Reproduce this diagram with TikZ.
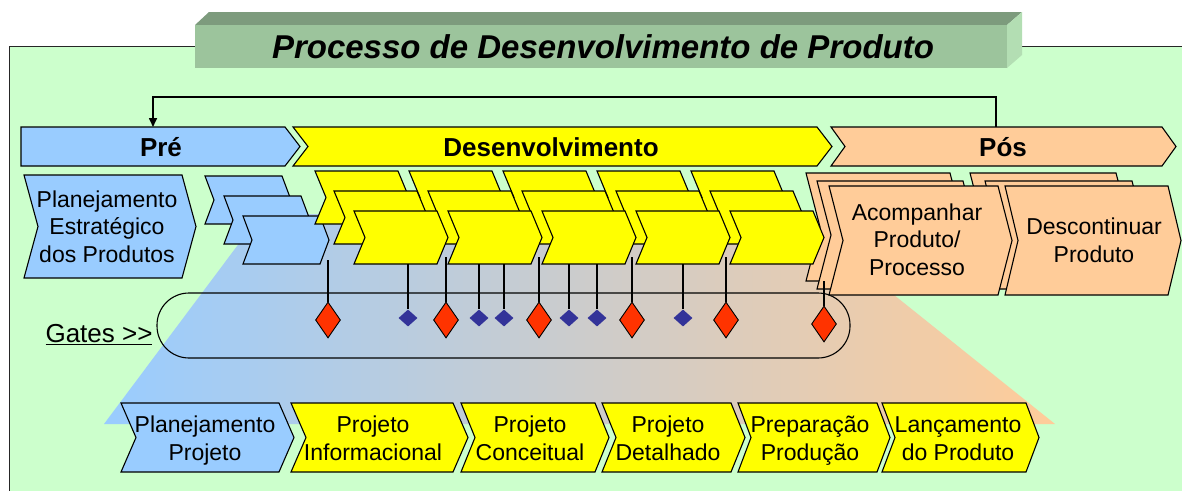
\documentclass[tikz,border=0pt]{standalone}
\usepackage{fontspec}
\setmainfont{Liberation Sans}
\usetikzlibrary{shapes.geometric,arrows.meta}
\definecolor{panelgreen}{HTML}{CCFFCC}
\definecolor{pblue}{HTML}{99CCFF}
\definecolor{pyellow}{HTML}{FFFF00}
\definecolor{porange}{HTML}{FFCC99}
\definecolor{gred}{HTML}{FF3300}
\definecolor{gblue}{HTML}{333399}
\definecolor{bfront}{HTML}{9CC49C}
\definecolor{btop}{HTML}{7D9B7D}
\definecolor{bside}{HTML}{B3DEB3}
% chevron: style, x, y, top width, height, depth
\newcommand{\chev}[6]{%
  \path[#1] (#2,#3) -- ++(#4,0) -- ++(#6,#5/2) -- ++(-#6,#5/2) -- ++(-#4,0) -- ++(#6,-#5/2) -- cycle;}
\tikzset{
  box/.style={draw=black, line width=1.1pt, line join=miter},
  bluebox/.style={box, fill=pblue},
  yelbox/.style={box, fill=pyellow},
  orabox/.style={box, fill=porange},
  head/.style={font=\fontsize{26}{30}\selectfont\bfseries, inner sep=0pt},
  lbl/.style={font=\fontsize{23}{27.5}\selectfont, align=center, inner sep=0pt},
  gateline/.style={draw=black, line width=1.1pt},
  redgate/.style={shape=diamond, draw=black, line width=0.9pt, fill=gred, inner sep=0pt, minimum width=25pt, minimum height=36pt},
  bluegate/.style={shape=diamond, fill=gblue, inner sep=0pt, minimum width=19pt, minimum height=17pt},
}
\begin{document}
\begin{tikzpicture}[x=1pt,y=-1pt]
\useasboundingbox (0,0) rectangle (1182,490);
\clip (0,0) rectangle (1182,490);
% panel
\path[draw=black!85, line width=1pt, fill=panelgreen] (9,46) rectangle (1200,510);
% title banner
\path[fill=btop] (195,25) -- (209,12) -- (1022,12) -- (1007,25) -- cycle;
\path[fill=bside] (1007,25) -- (1022,12) -- (1022,55) -- (1007,68) -- cycle;
\path[fill=bfront] (195,25) rectangle (1007,68);
\node[font=\fontsize{33}{38}\selectfont\bfseries\itshape, inner sep=0pt] (title) at (603,47) {Processo de Desenvolvimento de Produto};
% feedback connector
\coordinate (pretop) at (153,127);
\coordinate (postop) at (996,127);
\coordinate (fbl) at (153,97);
\draw[line width=1.6pt, -{Triangle[length=9pt,width=8pt]}] (postop) |- (fbl) -- (pretop);
% gradient field
\shade[left color=pblue, right color=porange] (261,214) -- (793,214) -- (1055,424) -- (104,424) -- cycle;
% gates band
\draw[line width=1.1pt, rounded corners=32pt] (157,293) rectangle (850,358);
% top row
\path[bluebox] (21,127) -- (285,127) -- (300,146.5) -- (285,166) -- (21,166) -- cycle;
\chev{yelbox}{293}{127}{524}{39}{15}
\chev{orabox}{831}{127}{331}{39}{14}
\node[head] (pre) at (161,147) {Pré};
\node[head] (des) at (551,147) {Desenvolvimento};
\node[head] (pos) at (1003,147) {Pós};
% second row left
\chev{bluebox}{24}{175}{158}{103}{14}
% orange stacks
\chev{orabox}{806}{173}{144}{108}{14}
\chev{orabox}{970}{173}{146}{108}{14}
\chev{orabox}{817}{181}{146}{108}{14}
\chev{orabox}{985}{181}{147}{108}{14}
\chev{orabox}{829}{186}{169}{109}{14}
\chev{orabox}{1005}{186}{163}{109}{13}
% blue stack
\chev{bluebox}{205}{176}{77}{48}{9}
\chev{bluebox}{224}{196}{77}{48}{9}
\chev{bluebox}{243}{216}{77}{48}{9}
% yellow stacks
\foreach \g in {0,...,4}{\chev{yelbox}{315+94*\g}{171}{83}{53}{11}}
\foreach \g in {0,...,4}{\chev{yelbox}{334+94*\g}{191}{83}{53}{11}}
\foreach \g in {0,...,4}{\chev{yelbox}{354+94*\g}{211}{83}{53}{11}}
% texts second row
\node[lbl] (pe) at (107,229) {\strut Planejamento\\\strut Estratégico\\\strut dos Produtos};
\node[lbl] (ap) at (917,242) {\strut Acompanhar\\\strut Produto/\\\strut Processo};
\node[lbl] (dp) at (1094,243) {\strut Descontinuar\\\strut Produto};
% gates
\node[lbl, font=\fontsize{26}{30}\selectfont] (gates) at (99,335) {\underline{Gates >{}>}};
\foreach \n/\x/\t in {r1/328/260, r2/446/257, r3/539/257, r4/632/257, r5/726/257}{
  \node[redgate] (\n) at (\x,320) {};
  \coordinate (\n t) at (\x,\t);
  \draw[gateline] (\n t) -- (\n.north);
}
\node[redgate] (r6) at (824,324) {};
\coordinate (r6t) at (824,281);
\draw[gateline] (r6t) -- (r6.north);
\foreach \n/\x in {b1/408, b2/479, b3/504, b4/569, b5/597, b6/683}{
  \node[bluegate] (\n) at (\x,318) {};
  \coordinate (\n t) at (\x,264);
  \draw[gateline] (\n t) -- (\n.north);
}
% bottom row
\chev{bluebox}{121}{403}{158}{69}{15}
\chev{yelbox}{291}{403}{162}{69}{15}
\chev{yelbox}{461}{403}{134}{69}{14}
\chev{yelbox}{602}{403}{129}{69}{14}
\chev{yelbox}{738}{403}{139}{69}{13}
\chev{yelbox}{882}{403}{144}{69}{13}
\node[lbl] (s1) at (205,441) {\strut Planejamento\\\strut Projeto};
\node[lbl] (s2) at (373,441) {\strut Projeto\\\strut Informacional};
\node[lbl] (s3) at (530,441) {\strut Projeto\\\strut Conceitual};
\node[lbl] (s4) at (668,441) {\strut Projeto\\\strut Detalhado};
\node[lbl] (s5) at (810,441) {\strut Preparação\\\strut Produção};
\node[lbl] (s6) at (958,441) {\strut Lançamento\\\strut do Produto};
\end{tikzpicture}
\end{document}
